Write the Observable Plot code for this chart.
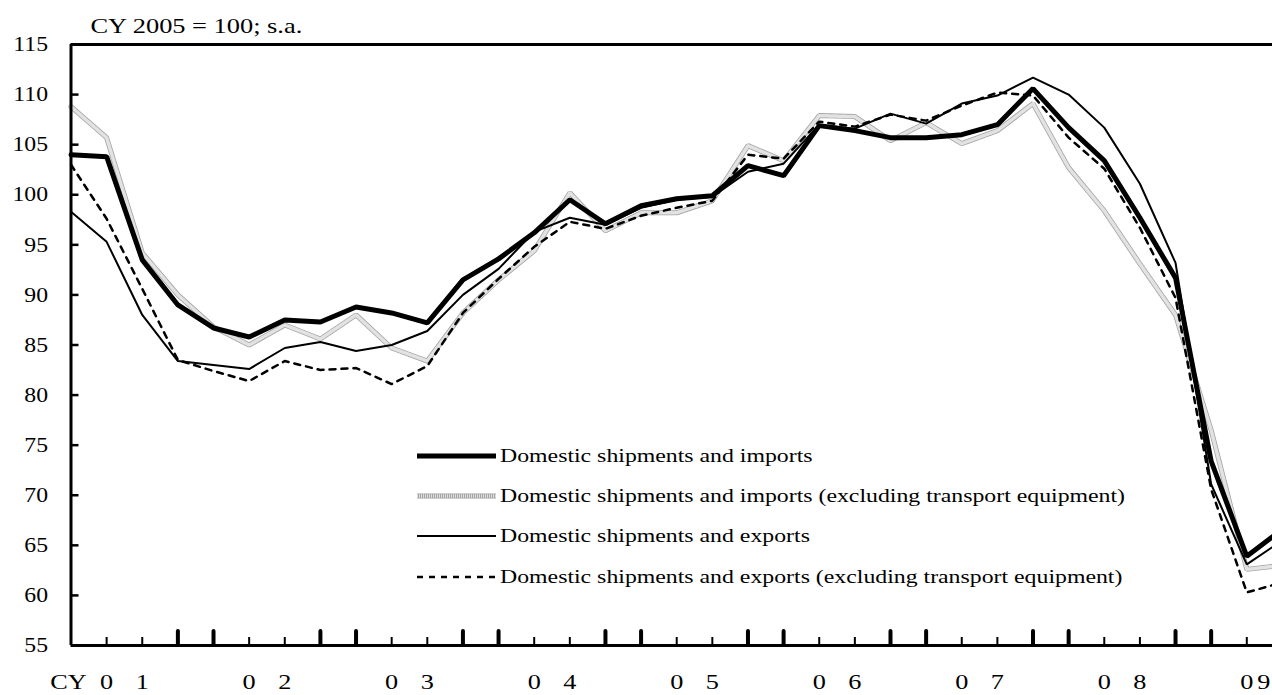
<!DOCTYPE html>
<html><head><meta charset="utf-8">
<script src="https://cdn.jsdelivr.net/npm/d3@7"></script>
<script src="https://cdn.jsdelivr.net/npm/@observablehq/plot@0.6"></script>
<style>
body{margin:0;background:#fff;}
#wrap{position:relative;width:1272px;height:695px;overflow:hidden;font-family:"Liberation Serif","Times New Roman",serif;background:#fff;}
#wrap svg{display:block;}
#legend{position:absolute;left:417px;top:0;}
.row{position:absolute;left:0;height:40px;display:flex;align-items:center;white-space:nowrap;}
.row svg{flex:none;}
.row span{display:inline-block;font-size:19.5px;color:#000;transform:scaleX(1.22);transform-origin:0 50%;margin-left:4px;line-height:1;}
</style></head>
<body><div id="wrap"><div id="legend"></div></div>
<script>
// ---- data ----
const quarters = ["2001Q1","2001Q2","2001Q3","2001Q4","2002Q1","2002Q2","2002Q3","2002Q4",
  "2003Q1","2003Q2","2003Q3","2003Q4","2004Q1","2004Q2","2004Q3","2004Q4",
  "2005Q1","2005Q2","2005Q3","2005Q4","2006Q1","2006Q2","2006Q3","2006Q4",
  "2007Q1","2007Q2","2007Q3","2007Q4","2008Q1","2008Q2","2008Q3","2008Q4",
  "2009Q1","2009Q2","2009Q3"];
const shipImports = [104.0,103.8,93.5,89.0,86.7,85.8,87.5,87.3,88.8,88.2,
  87.2,91.5,93.6,96.2,99.5,97.1,98.9,99.6,99.9,102.9,
  101.9,106.9,106.4,105.7,105.7,106.0,107.0,110.6,106.7,103.4,
  97.7,91.7,73.4,63.9,66.6];
const shipImportsExTE = [108.8,105.7,94.2,90.0,86.8,85.0,87.0,85.6,88.0,84.7,
  83.4,88.2,91.5,94.4,100.2,96.4,98.2,98.2,99.4,104.9,
  103.4,107.9,107.8,105.4,107.2,105.1,106.4,109.1,102.7,98.4,
  93.1,88.0,76.5,62.6,63.0];
const shipExports = [98.3,95.3,88.0,83.4,83.0,82.6,84.7,85.3,84.4,85.0,
  86.4,90.0,92.6,96.3,97.7,97.0,98.7,99.5,99.8,102.3,
  103.1,107.0,106.6,108.1,107.1,109.1,109.9,111.7,110.0,106.7,
  101.1,93.2,71.1,63.1,65.5];
const shipExportsExTE = [103.0,97.6,90.6,83.5,82.4,81.4,83.4,82.5,82.7,81.1,
  82.9,88.2,91.6,94.8,97.3,96.6,97.9,98.7,99.4,104.0,
  103.6,107.3,106.8,108.0,107.4,108.9,110.2,109.9,105.7,102.6,
  96.7,89.7,70.6,60.3,61.3];
const seriesNames = ["Domestic shipments and imports",
  "Domestic shipments and imports (excluding transport equipment)",
  "Domestic shipments and exports",
  "Domestic shipments and exports (excluding transport equipment)"];
const yTicks = [55,60,65,70,75,80,85,90,95,100,105,110,115];
const yearLabels = ["01","02","03","04","05","06","07","08","09"];
const titleText = "CY 2005 = 100; s.a.";
const axisPrefix = "CY";

// ---- layout ----
const W = 1272, H = 695;
const mL = 70.5, mR = 0, mT = 44, mB = 50;
const pxPerQ = 35.63;
const xMax = (W - mL - mR) / pxPerQ;
const unitsPerPx = 60 / (H - mT - mB);

const toRows = (vals) => vals.map((v, i) => ({i, q: quarters[i], v}));
const rImp = toRows(shipImports), rImpX = toRows(shipImportsExTE),
      rExp = toRows(shipExports), rExpX = toRows(shipExportsExTE);

// x-axis ticks: thin at Q2/Q3, thick at Q4/Q1
const idx = quarters.map((q, i) => ({i, qn: +q.slice(5)}));
const thinTicks = idx.filter(d => (d.qn === 2 || d.qn === 3) && d.i <= xMax).map(d => d.i);
const thickTicks = idx.filter(d => (d.qn === 4 || d.qn === 1) && d.i > 0 && d.i <= xMax).map(d => d.i);

// year label digits at Q2 and Q3 of each year
const digits = [];
yearLabels.forEach(y => {
  const i0 = quarters.indexOf("20" + y + "Q2");
  y.split("").forEach((ch, k) => digits.push({x: i0 + k, t: ch}));
});
const digitsIn = digits.filter(d => d.x <= xMax - 0.2);
const digitsClamped = digits.filter(d => d.x > xMax - 0.2).map(d => ({x: xMax, t: d.t}));

const black = "#000";
const grayBase = "#a2a2a2", grayHatch = "#e2e2e2";
const chart = Plot.plot({
  width: W, height: H,
  marginLeft: mL, marginRight: mR, marginTop: mT, marginBottom: mB,
  x: {domain: [0, xMax], axis: null},
  y: {domain: [55, 115], axis: null},
  style: {fontFamily: "'Liberation Serif','Times New Roman',serif", background: "#fff", color: "#000", overflow: "visible"},
  marks: [
    // series lines
    Plot.line(rImpX, {x: "i", y: "v", stroke: grayBase, strokeWidth: 5, strokeLinejoin: "miter"}),
    Plot.line(rImpX, {x: "i", y: "v", stroke: grayHatch, strokeWidth: 3.5, strokeDasharray: "1,1", strokeLinejoin: "miter"}),
    Plot.line(rExpX, {x: "i", y: "v", stroke: black, strokeWidth: 2.5, strokeDasharray: "6,6"}),
    Plot.line(rExp, {x: "i", y: "v", stroke: black, strokeWidth: 2, strokeLinejoin: "miter"}),
    Plot.line(rImp, {x: "i", y: "v", stroke: black, strokeWidth: 5, strokeLinejoin: "miter"}),
    // frame
    Plot.ruleY([55], {stroke: black, strokeWidth: 3}),
    Plot.ruleY([115], {stroke: black, strokeWidth: 3}),
    Plot.ruleX([0], {y1: 55, y2: 115, stroke: black, strokeWidth: 3}),
    // y inner ticks
    Plot.ruleY(yTicks.filter(v => v > 55 && v < 115), {x1: 0, x2: 8 / pxPerQ, stroke: black, strokeWidth: 2.5}),
    // x ticks
    Plot.ruleX(thinTicks, {y1: 55, y2: 55 + 8 * unitsPerPx, stroke: black, strokeWidth: 2}),
    Plot.ruleX(thickTicks, {y1: 55, y2: 55 + 14 * unitsPerPx, stroke: black, strokeWidth: 4, strokeLinecap: "round"}),
    // y labels
    Plot.text(yTicks, {x: 0, y: d => d, text: d => String(d), dx: -23, textAnchor: "end", fontSize: 21, fill: black}),
    // x labels
    Plot.text(digitsIn, {x: "x", y: 55, text: "t", dy: 37, fontSize: 21, fill: black}),
    Plot.text(digitsClamped, {x: "x", y: 55, text: "t", dy: 37, dx: -2, textAnchor: "end", fontSize: 21, fill: black}),
    Plot.text([axisPrefix], {x: 0, y: 55, text: d => d, dy: 37, dx: -2.5, fontSize: 21, fill: black}),
    // title
    Plot.text([titleText], {frameAnchor: "top-left", text: d => d, textAnchor: "start", lineAnchor: "middle", dx: 19.5, dy: -19, fontSize: 22, fill: black})
  ]
});

// horizontal stretch of text groups (in mark order) to mimic source rendering
const stretchByOrder = [1.13, 1.25, 1.25, 1.25, 1.2];
const textGroups = Array.from(chart.querySelectorAll("g")).filter(g => g.querySelector(":scope > text"));
textGroups.forEach((g, k) => {
  const s = stretchByOrder[k] || 1;
  g.querySelectorAll(":scope > text").forEach(t => {
    const tr = t.getAttribute("transform");
    if (tr) t.setAttribute("transform", tr + ` scale(${s},1)`);
    else {
      const x = +(t.getAttribute("x") || 0);
      t.setAttribute("transform", `translate(${x},0) scale(${s},1) translate(${-x},0)`);
    }
  });
});

const wrap = document.getElementById("wrap");
wrap.insertBefore(chart, wrap.firstChild);

// legend (HTML overlay)
const legend = document.getElementById("legend");
const legendStyles = [
  {stroke: "#000", width: 5, dash: null},
  {stroke: "gray", width: 5, dash: null},
  {stroke: "#000", width: 2, dash: null},
  {stroke: "#000", width: 2.5, dash: "6,6"}
];
const rowCenters = [456, 496, 536, 577];
seriesNames.forEach((name, k) => {
  const st = legendStyles[k];
  const row = document.createElement("div");
  row.className = "row";
  row.style.top = (rowCenters[k] - 20) + "px";
  let lineSvg;
  if (st.stroke === "gray") {
    lineSvg = `<svg width="79" height="10"><line x1="0" y1="5" x2="79" y2="5" stroke="${grayBase}" stroke-width="5"/><line x1="0" y1="5" x2="79" y2="5" stroke="${grayHatch}" stroke-width="3.5" stroke-dasharray="1,1"/></svg>`;
  } else {
    lineSvg = `<svg width="79" height="10"><line x1="0" y1="5" x2="79" y2="5" stroke="${st.stroke}" stroke-width="${st.width}" ${st.dash ? `stroke-dasharray="${st.dash}"` : ""} stroke-linecap="${st.width >= 5 ? "round" : "butt"}"/></svg>`;
  }
  row.innerHTML = lineSvg + `<span>${name}</span>`;
  legend.appendChild(row);
});
</script>
</body></html>
